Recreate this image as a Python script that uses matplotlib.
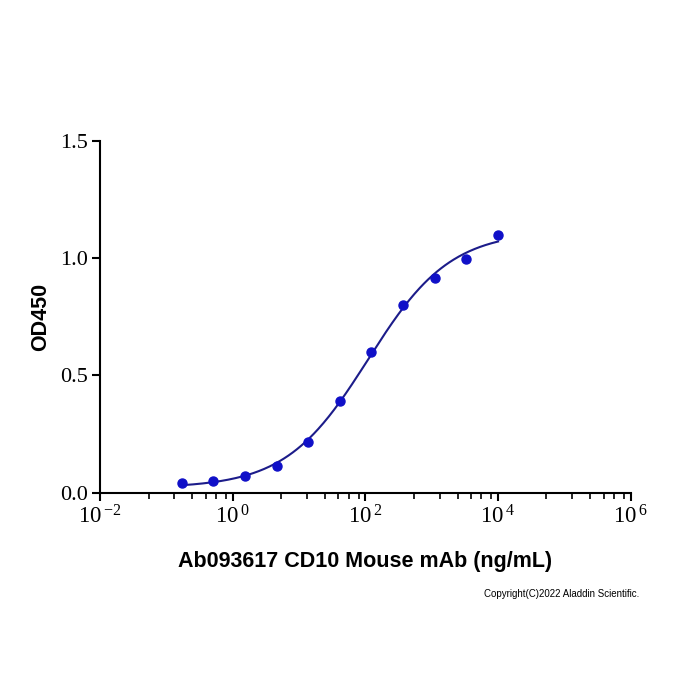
import numpy as np
import matplotlib
matplotlib.use("Agg")
import matplotlib.pyplot as plt
from matplotlib.ticker import FixedLocator, NullFormatter

# data (3-fold dilution, ng/mL)
conc = [0.169, 0.508, 1.52, 4.57, 13.7, 41.2, 123.5, 370.4, 1111, 3333, 10000]
od450 = [0.041, 0.051, 0.070, 0.116, 0.217, 0.392, 0.601, 0.798, 0.917, 0.996, 1.100]

x_ticks = [1e-2, 1e0, 1e2, 1e4, 1e6]
x_tick_labels = [r'$\mathregular{10^{\,{-}2}}$', r'$\mathregular{10^{\,0}}$', r'$\mathregular{10^{\,2}}$',
                 r'$\mathregular{10^{\,4}}$', r'$\mathregular{10^{\,6}}$']
y_ticks = [0.0, 0.5, 1.0, 1.5]
y_tick_labels = ["0.0", "0.5", "1.0", "1.5"]

# 4PL fit of the points (grid over EC50/hill, linear least squares for bottom/top)
lx = np.log10(np.array(conc))
y = np.array(od450)
best = None
for lec in np.linspace(1.0, 3.0, 201):
    for hill in np.linspace(0.5, 1.5, 101):
        s = 1.0 / (1.0 + 10 ** ((lec - lx) * hill))
        A = np.column_stack([1 - s, s])
        coef, res, _, _ = np.linalg.lstsq(A, y, rcond=None)
        err = np.sum((A @ coef - y) ** 2)
        if best is None or err < best[0]:
            best = (err, lec, hill, coef)
_, lec, hill, (bottom, top) = best
xs = np.logspace(lx.min(), lx.max(), 300)
ys = bottom + (top - bottom) / (1.0 + 10 ** ((lec - np.log10(xs)) * hill))

fig = plt.figure(figsize=(7, 7), dpi=100)
ax = fig.add_axes([0.143, 0.296, 0.758, 0.503])

ax.plot(xs, ys, color='#1c1c8a', lw=1.5)
ax.plot(conc, od450, 'o', color='#1010c8', ms=6.5)

ax.set_xscale('log')
ax.set_xlim(1e-2, 1e6)
ax.set_ylim(0, 1.5)
ax.spines['top'].set_visible(False)
ax.spines['right'].set_visible(False)
for s in ['left', 'bottom']:
    ax.spines[s].set_linewidth(1.5)

ax.set_xticks(x_ticks)
ax.set_xticklabels(x_tick_labels, fontsize=16.5, family='Liberation Serif')
minor = []
for base in [-2, 0, 2, 4]:
    for off in [0.73, 1.12, 1.39, 1.59, 1.75, 1.90]:
        minor.append(10 ** (base + off))
ax.xaxis.set_minor_locator(FixedLocator(minor))
ax.xaxis.set_minor_formatter(NullFormatter())
ax.set_yticks(y_ticks)
ax.set_yticklabels(y_tick_labels, fontsize=16, family='Liberation Serif')
ax.tick_params(axis='both', which='major', length=6, width=1.5, direction='out', pad=3)
ax.tick_params(axis='x', which='minor', length=4, width=1.2)

ax.set_ylabel('OD450', fontsize=15.5, fontweight='bold', family='Liberation Sans', labelpad=6)
ax.set_xlabel('Ab093617 CD10 Mouse mAb (ng/mL)', fontsize=15.5, fontweight='bold',
              family='Liberation Sans', labelpad=16)

fig.text(0.913, 0.151, 'Copyright(C)2022 Aladdin Scientific.', fontsize=7,
         family='Liberation Sans', ha='right', va='center')

fig.savefig('out.png', dpi=100)
